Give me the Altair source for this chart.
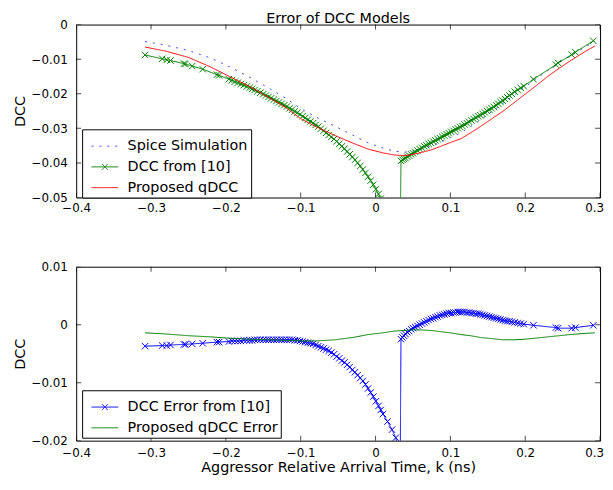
import altair as alt
import pandas as pd

FONT = "DejaVu Sans"

# ---- axes ----
X_DOMAIN = [-0.4, 0.3]
X_TICKS = [-0.4, -0.3, -0.2, -0.1, 0.0, 0.1, 0.2, 0.3]
TOP_Y_DOMAIN = [-0.05, 0.0]
TOP_Y_TICKS = [-0.05, -0.04, -0.03, -0.02, -0.01, 0.0]
BOT_Y_DOMAIN = [-0.02, 0.01]
BOT_Y_TICKS = [-0.02, -0.01, 0.0, 0.01]

# ---- sample points of the model from [10] (markers) ----
k_dcc = [-0.308, -0.285, -0.279, -0.274, -0.256, -0.254, -0.245, -0.231, -0.212, -0.209,
         -0.196, -0.188, -0.180, -0.172, -0.165, -0.158, -0.150, -0.143, -0.136, -0.129,
         -0.122, -0.115, -0.108, -0.101, -0.094, -0.087, -0.080, -0.073, -0.066, -0.059,
         -0.052, -0.045, -0.038, -0.031, -0.024, -0.017, -0.010, -0.003, 0.004, 0.010,
         0.016, 0.022, 0.027, 0.031, 0.033,
         0.034, 0.036, 0.040, 0.045, 0.050, 0.056, 0.062, 0.068, 0.074, 0.080,
         0.086, 0.092, 0.098, 0.104, 0.110, 0.116, 0.122, 0.128, 0.134, 0.140,
         0.146, 0.152, 0.158, 0.164, 0.170, 0.176, 0.182, 0.190, 0.198, 0.211,
         0.241, 0.244, 0.262, 0.267, 0.291]
dcc10 = [-0.0088, -0.0099, -0.0102, -0.0104, -0.0113, -0.0114, -0.0120, -0.0129, -0.0145, -0.0147,
         -0.0158, -0.0165, -0.0172, -0.0179, -0.0186, -0.0193, -0.0201, -0.0209, -0.0217, -0.0225,
         -0.0233, -0.0242, -0.0251, -0.0260, -0.0270, -0.0280, -0.0290, -0.0301, -0.0313, -0.0325,
         -0.0338, -0.0352, -0.0367, -0.0383, -0.0400, -0.0419, -0.0440, -0.0463, -0.0490, -0.0515,
         -0.0535, -0.0553, -0.0567, -0.0580, -0.0595,
         -0.0394, -0.0391, -0.0386, -0.0379, -0.0372, -0.0364, -0.0356, -0.0349, -0.0342, -0.0335,
         -0.0328, -0.0321, -0.0314, -0.0307, -0.0300, -0.0293, -0.0285, -0.0277, -0.0269, -0.0262,
         -0.0254, -0.0246, -0.0238, -0.0229, -0.0220, -0.0210, -0.0200, -0.0189, -0.0178, -0.0158,
         -0.0116, -0.0111, -0.0087, -0.0080, -0.0047]
dcc10_err = [-0.0037, -0.0036, -0.0036, -0.0035, -0.0034, -0.0034, -0.0033, -0.0032, -0.0030, -0.0030,
             -0.0029, -0.0028, -0.0028, -0.0027, -0.0027, -0.0026, -0.0026, -0.0026, -0.0026, -0.0026,
             -0.0026, -0.0026, -0.0027, -0.0028, -0.0030, -0.0032, -0.0035, -0.0039, -0.0043, -0.0048,
             -0.0055, -0.0062, -0.0069, -0.0078, -0.0087, -0.0097, -0.0110, -0.0124, -0.0140, -0.0154,
             -0.0167, -0.0181, -0.0195, -0.0215, -0.0235,
             -0.0025, -0.0022, -0.0016, -0.0011, -0.0006, -0.0002, 0.0002, 0.0006, 0.0010, 0.0013,
             0.0016, 0.0018, 0.0020, 0.0021, 0.0022, 0.0022, 0.0021, 0.0020, 0.0019, 0.0018,
             0.0016, 0.0014, 0.0012, 0.0010, 0.0008, 0.0006, 0.0005, 0.0003, 0.0001, -0.0001,
             -0.0005, -0.0006, -0.0006, -0.0005, -0.0001]

# extra samples where the markers crowd together
k_dense = [-0.192, -0.184, -0.176, -0.168, -0.1615, -0.154, -0.1465, -0.1395, -0.1325, -0.1255,
           -0.1185, -0.1115, -0.1045, -0.0975, -0.0905, -0.0835, -0.0765, -0.0695, -0.0625, -0.0555,
           -0.0485, -0.0415, -0.0345, -0.0275, -0.0205, -0.0135, -0.0065, 0.0005, 0.007,
           0.038, 0.0425, 0.0475, 0.053, 0.059, 0.065, 0.071, 0.077, 0.083, 0.089,
           0.095, 0.101, 0.107, 0.113, 0.119, 0.125, 0.131, 0.137, 0.143, 0.149,
           0.155, 0.161, 0.167, 0.173, 0.179, 0.186, 0.194]
dcc10_dense = [-0.0161, -0.0168, -0.0175, -0.0182, -0.0189, -0.0197, -0.0205, -0.0213, -0.0221, -0.0229,
               -0.0237, -0.0246, -0.0255, -0.0265, -0.0275, -0.0285, -0.0295, -0.0307, -0.0319, -0.0331,
               -0.0345, -0.0359, -0.0375, -0.0391, -0.0409, -0.0429, -0.0451, -0.0476, -0.0503,
               -0.0388, -0.0382, -0.0375, -0.0368, -0.0360, -0.0352, -0.0345, -0.0338, -0.0331, -0.0324,
               -0.0317, -0.0310, -0.0303, -0.0296, -0.0289, -0.0281, -0.0273, -0.0265, -0.0258, -0.0250,
               -0.0242, -0.0233, -0.0224, -0.0215, -0.0205, -0.0194, -0.0183]
dcc10_err_dense = [-0.0028, -0.0028, -0.0027, -0.0027, -0.0026, -0.0026, -0.0026, -0.0026, -0.0026, -0.0026,
                   -0.0026, -0.0026, -0.0027, -0.0029, -0.0031, -0.0033, -0.0037, -0.0041, -0.0045, -0.0051,
                   -0.0058, -0.0065, -0.0073, -0.0082, -0.0092, -0.0103, -0.0117, -0.0132, -0.0147,
                   -0.0019, -0.0013, -0.0008, -0.0004, 0.0000, 0.0004, 0.0008, 0.0011, 0.0014, 0.0017,
                   0.0019, 0.0020, 0.0021, 0.0022, 0.0022, 0.0021, 0.0020, 0.0019, 0.0017, 0.0015,
                   0.0013, 0.0011, 0.0009, 0.0007, 0.0006, 0.0004, 0.0002]

# ---- smooth curves ----
k_smooth = [-0.308, -0.28, -0.25, -0.22, -0.199, -0.17, -0.14, -0.12, -0.10, -0.08,
            -0.054, -0.03, -0.01, 0.01, 0.025, 0.038, 0.048, 0.061, 0.075, 0.087,
            0.10, 0.114, 0.127, 0.14, 0.155, 0.17, 0.185, 0.20, 0.215, 0.23,
            0.245, 0.26, 0.28, 0.293]
spice = [-0.0049, -0.0060, -0.0075, -0.0097, -0.0118, -0.0150, -0.0187, -0.0213, -0.0243, -0.0267,
         -0.0294, -0.0320, -0.0342, -0.0357, -0.0366, -0.0369, -0.0366, -0.0360, -0.0351, -0.0340,
         -0.0327, -0.0313, -0.0295, -0.0276, -0.0252, -0.0228, -0.0204, -0.0180, -0.0156, -0.0133,
         -0.0111, -0.0090, -0.0065, -0.0049]
qdcc = [-0.0065, -0.0077, -0.0095, -0.0123, -0.0146, -0.0177, -0.0214, -0.0240, -0.0272, -0.0295,
        -0.0321, -0.0343, -0.0360, -0.0371, -0.0377, -0.0379, -0.0376, -0.0370, -0.0362, -0.0352,
        -0.0341, -0.0330, -0.0313, -0.0295, -0.0273, -0.0251, -0.0226, -0.0201, -0.0176, -0.0150,
        -0.0127, -0.0105, -0.0078, -0.0062]
qdcc_err = [-0.0014, -0.0016, -0.0019, -0.0021, -0.0023, -0.0025, -0.0026, -0.0027, -0.0028, -0.0028,
            -0.0026, -0.0022, -0.0017, -0.0014, -0.0011, -0.0010, -0.0009, -0.0009, -0.0010, -0.0012,
            -0.0014, -0.0017, -0.0019, -0.0022, -0.0024, -0.0026, -0.0026, -0.0025, -0.0023, -0.0021,
            -0.0019, -0.0017, -0.0015, -0.0014]

top_series = ["Spice Simulation", "DCC from [10]", "Proposed qDCC"]
top_colors = ["#4444ff", "#008000", "#ff0000"]
top_dashes = [[2, 6], [1, 0], [1, 0]]
bot_series = ["DCC Error from [10]", "Proposed qDCC Error"]
bot_colors = ["#0000ff", "#008000"]
bot_dashes = [[1, 0], [1, 0]]

LINE_SYM = "M-1,0H1"
LINE_X_SYM = "M-1,0H1M-0.22,-0.22L0.22,0.22M-0.22,0.22L0.22,-0.22"
X_MARK = "M-1,-1L1,1M-1,1L1,-1"
top_symbols = [LINE_SYM, LINE_X_SYM, LINE_SYM]
bot_symbols = [LINE_X_SYM, LINE_SYM]


def frame(k, v, name):
    return pd.DataFrame({"k": k, "v": v, "series": name})


def panel(curves, marker_df, series, colors, dashes, symbols, y_domain, y_ticks,
          x_title, x_label_pad, legend_y):
    xs = alt.Scale(domain=X_DOMAIN, nice=False, zero=False)
    ys = alt.Scale(domain=y_domain, nice=False, zero=False)
    xax = alt.Axis(values=X_TICKS, format="~g", ticks=False, domain=False, grid=False,
                   labelPadding=x_label_pad, titlePadding=2, labelFlush=False,
                   labelOffset={"condition": {"test": "datum.value > 0.25", "value": -6},
                                "value": 0})
    yax = alt.Axis(values=y_ticks, format="~g", ticks=False, domain=False, grid=False,
                   labelPadding=9, titlePadding=4, labelFlush=False)
    if x_title:
        X = alt.X("k:Q", scale=xs, axis=xax, title=x_title)
    else:
        X = alt.X("k:Q", scale=xs, axis=xax, title=None)
    Y = alt.Y("v:Q", scale=ys, axis=yax, title="DCC")
    cscale = alt.Scale(domain=series, range=colors)
    dscale = alt.Scale(domain=series, range=dashes)
    sscale = alt.Scale(domain=series, range=symbols)
    leg = alt.Legend(orient="none", legendX=6, legendY=legend_y, title=None,
                     symbolSize=729, symbolStrokeWidth=1, labelFontSize=14.5,
                     labelFont=FONT, labelColor="black", padding=3, rowPadding=-1,
                     symbolOffset=6, labelOffset=9, strokeColor="black",
                     fillColor="white", cornerRadius=0)
    col = alt.Color("series:N", scale=cscale, legend=leg)
    dash = alt.StrokeDash("series:N", scale=dscale, legend=leg)

    layers = []
    marker_series = marker_df["series"].iloc[0]
    for df in curves:
        layers.append(alt.Chart(df).mark_line(clip=True, strokeWidth=1).encode(
            x=X, y=Y, color=col, strokeDash=dash))
        if df["series"].iloc[0] == marker_series:
            layers.append(alt.Chart(marker_df).mark_point(
                shape=X_MARK, filled=False, size=42, strokeWidth=1, opacity=1, clip=True
            ).encode(x=X, y=Y, color=col))

    # inward ticks on all four sides
    xt = pd.DataFrame({"k": X_TICKS * 2,
                       "v": [y_domain[0]] * len(X_TICKS) + [y_domain[1]] * len(X_TICKS)})
    yt = pd.DataFrame({"k": [X_DOMAIN[0]] * len(y_ticks) + [X_DOMAIN[1]] * len(y_ticks),
                       "v": y_ticks * 2})
    layers.append(alt.Chart(xt).mark_tick(orient="vertical", size=10, thickness=1,
                                          color="black", clip=True).encode(x=X, y=Y))
    layers.append(alt.Chart(yt).mark_tick(orient="horizontal", size=10, thickness=1,
                                          color="black", clip=True).encode(x=X, y=Y))

    # legend carrier (draws no points)
    leg_df = pd.DataFrame({"series": series})
    layers.append(alt.Chart(leg_df).transform_filter("false").mark_point(
        filled=False, strokeWidth=1).encode(
        color=col,
        shape=alt.Shape("series:N", scale=sscale, legend=leg),
        strokeDash=dash))
    return alt.layer(*layers)


top_dcc = frame(k_dcc + k_dense, dcc10 + dcc10_dense, top_series[1])
top_curves = [frame(k_smooth, spice, top_series[0]),
              top_dcc,
              frame(k_smooth, qdcc, top_series[2])]
top = panel(top_curves, top_dcc, top_series, top_colors, top_dashes, top_symbols,
            TOP_Y_DOMAIN, TOP_Y_TICKS, None, 5, 106).properties(
    width=530, height=175,
    title=alt.TitleParams("Error of DCC Models", offset=-8, anchor="middle"))

bot_dcc = frame(k_dcc + k_dense, dcc10_err + dcc10_err_dense, bot_series[0])
bot_curves = [bot_dcc, frame(k_smooth, qdcc_err, bot_series[1])]
bottom = panel(bot_curves, bot_dcc, bot_series, bot_colors, bot_dashes, bot_symbols,
               BOT_Y_DOMAIN, BOT_Y_TICKS, "Aggressor Relative Arrival Time, k (ns)", 7,
               125).properties(width=530, height=176)

chart = alt.vconcat(top, bottom, spacing=46).resolve_scale(
    color="independent", shape="independent", strokeDash="independent"
).properties(
    padding={"left": 3, "top": 0, "right": 0, "bottom": 0}
).configure(font=FONT).configure_view(
    stroke="black", strokeWidth=1
).configure_axis(
    labelFontSize=12, titleFontSize=14.5, labelColor="black", titleColor="black",
    titleFontWeight="normal", labelFont=FONT, titleFont=FONT
).configure_title(
    fontSize=14.5, fontWeight="normal", font=FONT, color="black"
)

chart.save("out.html", embed_options={"renderer": "svg", "actions": False})
